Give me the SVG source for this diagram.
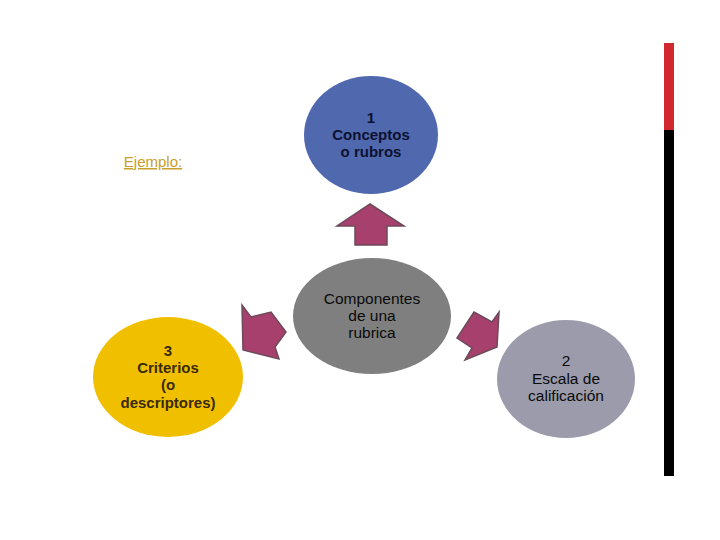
<svg xmlns="http://www.w3.org/2000/svg" width="720" height="540" viewBox="0 0 720 540">
<style>
text{font-family:"Liberation Sans",Arial,sans-serif;font-size:15px;text-anchor:middle;font-weight:bold}
.n{font-weight:normal;font-size:15.5px;fill:#0a0a0a}
.arrow{fill:#a8406e;stroke:#6c4a5a;stroke-width:1.5;stroke-linejoin:miter}
</style>
<rect width="720" height="540" fill="#ffffff"/>
<text x="153" y="167" style="font-size:15px;font-weight:normal;fill:#c8a02a;text-decoration:underline">Ejemplo:</text>
<rect x="664" y="43" width="10" height="87" fill="#d0282e"/>
<rect x="664" y="130" width="10" height="346" fill="#000000"/>
<g id="connectors">
<polygon class="arrow" points="370,204 404,226 387,226 387,245 355,245 355,226 337,226"/>
<polygon class="arrow" points="243,350 242,305 251,317 271,312 286,332 275,347 279,359"/>
<polygon class="arrow" points="497,347 499,312 492,322 474,312 457,338 472,348 465,360"/>
</g>
<g id="node1">
<ellipse cx="371" cy="135" rx="67" ry="59" fill="#5068ae"/>
<text x="371" y="123" fill="#0c1230">1</text>
<text x="371" y="140" fill="#0c1230">Conceptos</text>
<text x="371" y="157" fill="#0c1230">o rubros</text>
</g>
<g id="center">
<ellipse cx="372" cy="316" rx="79" ry="58" fill="#7f7f7f"/>
<text class="n" x="372" y="304">Componentes</text>
<text class="n" x="372" y="321">de una</text>
<text class="n" x="372" y="338">rubrica</text>
</g>
<g id="node3">
<ellipse cx="168" cy="377" rx="75" ry="60" fill="#f0c000"/>
<text x="168" y="356" fill="#3a2a08">3</text>
<text x="168" y="373" fill="#3a2a08">Criterios</text>
<text x="168" y="390" fill="#3a2a08">(o</text>
<text x="168" y="408" fill="#3a2a08">descriptores)</text>
</g>
<g id="node2">
<ellipse cx="566" cy="379" rx="69" ry="59" fill="#9b9bab"/>
<text class="n" x="566" y="366">2</text>
<text class="n" x="566" y="384">Escala de</text>
<text class="n" x="566" y="401">calificación</text>
</g>
</svg>
